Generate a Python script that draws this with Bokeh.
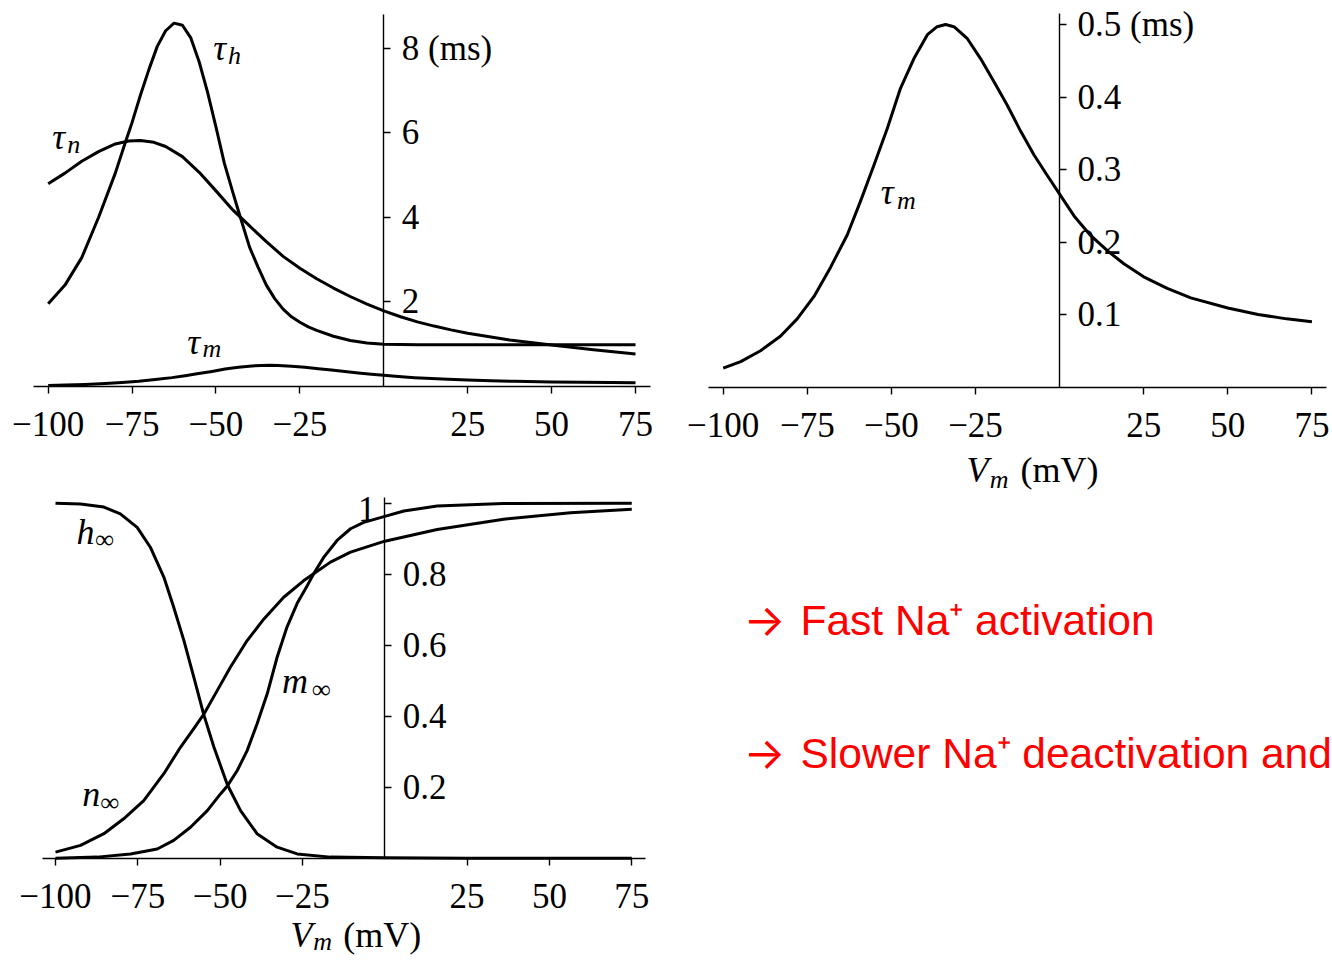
from bokeh.plotting import figure
from bokeh.models import LinearAxis, FixedTicker, Range1d
from bokeh.layouts import row, column
from bokeh.embed import file_html
from bokeh.resources import INLINE
from bokeh.core.properties import value

# ---------------- data ----------------
tau_h_v = [-100, -95, -90, -85, -80, -77, -75, -72.5, -70, -67.5, -65, -62.5, -60, -57.5, -55,
           -52.5, -50, -47.5, -45, -43.5, -40, -37.5, -35, -32.5, -30, -27.5, -25, -22.5, -20, -15, -10, -5,
           0, 10, 25, 50, 75]
tau_h = [1.96, 2.40, 3.05, 4.00, 5.05, 5.78, 6.25, 6.90, 7.50, 8.05, 8.42, 8.60, 8.55, 8.25, 7.68,
         6.96, 6.14, 5.28, 4.60, 4.20, 3.30, 2.83, 2.40, 2.08, 1.83, 1.65, 1.52, 1.41, 1.33, 1.19, 1.09, 1.03,
         1.00, 0.99, 0.99, 0.99, 0.99]

tau_n_v = [-100, -95, -90, -85, -80, -76, -72.5, -68.5, -65, -60, -55, -50, -45, -40, -35, -30, -25,
           -20, -15, -10, -5, 0, 5, 10, 15, 20, 25, 37.5, 50, 62.5, 75]
tau_n = [4.80, 5.05, 5.33, 5.56, 5.74, 5.81, 5.82, 5.78, 5.68, 5.44, 5.07, 4.63, 4.18, 3.80, 3.43, 3.08, 2.80,
         2.55, 2.33, 2.13, 1.95, 1.79, 1.65, 1.53, 1.43, 1.34, 1.26, 1.10, 0.98, 0.87, 0.77]

tau_m_v = [-100, -94.8, -88.9, -83.0, -78.0, -73.0, -68.1, -63.1, -59.2, -55.2, -51.2, -47.3, -43.3, -39.3,
           -36.4, -33.9, -31.4, -27.5, -23.5, -19.5, -15.6, -11.6, -7.6, -3.7, 0, 4.3, 9.2, 14.2, 19.1, 25,
           32, 39, 50, 59, 67.5, 75]
tau_m = [0.026, 0.035, 0.050, 0.070, 0.094, 0.125, 0.165, 0.210, 0.256, 0.306, 0.357, 0.412, 0.453, 0.486,
         0.497, 0.500, 0.497, 0.481, 0.453, 0.421, 0.389, 0.353, 0.320, 0.292, 0.266, 0.236, 0.209, 0.188, 0.170,
         0.152, 0.136, 0.123, 0.109, 0.100, 0.094, 0.090]

h_inf_v = [-100, -92.4, -85.3, -80.3, -75.2, -71.2, -67.1, -64.1, -61.0, -58.0, -55.0, -51.9, -47.8, -43.8,
           -38.8, -32.7, -26.6, -16.5, 0, 25, 50, 75]
h_inf = [1.000, 0.998, 0.989, 0.970, 0.932, 0.876, 0.792, 0.707, 0.613, 0.510, 0.405, 0.313, 0.207, 0.134,
         0.069, 0.031, 0.012, 0.003, 0.001, 0.0, 0.0, 0.0]

n_inf_v = [-100, -92.4, -85.3, -79.3, -73.2, -67.1, -62.0, -58.0, -55.0, -50.9, -46.9, -41.8, -36.7, -30.7,
           -24.6, -21.6, -16.5, -10.4, 0, 15.9, 36.1, 56.4, 75]
n_inf = [0.017, 0.036, 0.069, 0.111, 0.162, 0.238, 0.313, 0.365, 0.405, 0.472, 0.538, 0.613, 0.674, 0.735,
         0.782, 0.801, 0.834, 0.862, 0.893, 0.926, 0.955, 0.973, 0.983]

m_inf_v = [-100, -87.4, -77.2, -69.1, -64.1, -59.0, -53.9, -49.9, -47.7, -44.8, -41.8, -38.8, -35.7, -32.7,
           -29.7, -26.6, -23.6, -21.6, -18.5, -14.5, -10.4, -6.4, 0, 5.8, 15.9, 36, 75]
m_inf = [0.000, 0.003, 0.012, 0.026, 0.050, 0.087, 0.134, 0.181, 0.205, 0.247, 0.303, 0.378, 0.463, 0.566,
         0.651, 0.718, 0.767, 0.801, 0.848, 0.895, 0.928, 0.946, 0.963, 0.978, 0.992, 0.999, 1.000]

x_ticks = [-100, -75, -50, -25, 25, 50, 75]
x_tick_labels = ["\u2212100", "\u221275", "\u221250", "\u221225", "25", "50", "75"]
tl_y_ticks = [2, 4, 6, 8]
tl_y_labels = ["2", "4", "6", "8 (ms)"]
tr_y_ticks = [0.1, 0.2, 0.3, 0.4, 0.5]
tr_y_labels = ["0.1", "0.2", "0.3", "0.4", "0.5 (ms)"]
bl_y_ticks = [0.2, 0.4, 0.6, 0.8, 1]
bl_y_labels = ["0.2", "0.4", "0.6", "0.8", ""]

red_arrow = "\u2192"
red_texts = ["Fast Na\u207a activation", "Slower Na\u207a deactivation and"]

# ---------------- styling ----------------
SERIF = "Liberation Serif"
TICK_FS = "35px"
LAB_FS = "36px"
SUB_FS = "26px"
LW = 3.0


def make_fig(width, height, xr, yr):
    p = figure(width=width, height=height, x_range=Range1d(*xr), y_range=Range1d(*yr),
               x_axis_location=None, y_axis_location=None, toolbar_location=None,
               output_backend="svg", min_border=0, outline_line_color=None)
    p.min_border_left = 0
    p.min_border_right = 0
    p.min_border_top = 0
    p.min_border_bottom = 0
    p.grid.visible = False
    p.background_fill_color = "white"
    p.border_fill_color = "white"
    return p


def style_axis(ax, ticks, labels, standoff):
    ax.ticker = FixedTicker(ticks=ticks)
    ax.major_label_overrides = dict(zip(ticks, labels))
    ax.axis_line_color = "black"
    ax.axis_line_width = 1.4
    ax.major_tick_line_color = "black"
    ax.major_tick_line_width = 1.4
    ax.major_tick_in = 0
    ax.major_tick_out = 7
    ax.minor_tick_line_color = None
    ax.major_label_text_font = SERIF
    ax.major_label_text_font_size = TICK_FS
    ax.major_label_text_color = "black"
    ax.major_label_standoff = standoff


def add_axes(p, xbounds, ybounds, yticks, ylabels):
    xa = LinearAxis(fixed_location=0, bounds=xbounds)
    style_axis(xa, x_ticks, x_tick_labels, 19)
    p.add_layout(xa, "below")
    ya = LinearAxis(fixed_location=0, bounds=ybounds)
    style_axis(ya, yticks, ylabels, 11)
    p.add_layout(ya, "right")


def txt(p, x, y, s, size, italic=False, font=SERIF, color="black"):
    p.text(x=[x], y=[y], text=[s], text_font=value(font),
           text_font_style="italic" if italic else "normal",
           text_font_size=size, text_baseline="alphabetic", text_align="left", text_color=color)


def math_label(p, x, y, main, sx, sy, sub):
    txt(p, x, y, main, LAB_FS, italic=True)
    txt(p, sx, sy, sub, SUB_FS, italic=True)


# ---------------- top-left: tau_h, tau_n, tau_m ----------------
pa = make_fig(680, 486, (-114.21, 88.41), (-2.3669, 9.136))
add_axes(pa, (-104.38, 79.47), (0, 8.80), tl_y_ticks, tl_y_labels)
for xs, ys in ((tau_h_v, tau_h), (tau_n_v, tau_n), (tau_m_v, tau_m)):
    pa.line(xs, ys, line_width=LW, line_color="black", line_join="round")
math_label(pa, -50.8, 8.004, "\u03c4", -46.4, 7.833, "h")
math_label(pa, -98.8, 5.914, "\u03c4", -94.3, 5.733, "n")
math_label(pa, -58.6, 1.064, "\u03c4", -54.0, 0.893, "m")

# ---------------- top-right: tau_m ----------------
pb = make_fig(652, 496, (-112.69, 81.12), (-0.1510, 0.5331))
add_axes(pb, (-104.37, 79.37), (0, 0.5148), tr_y_ticks, tr_y_labels)
pb.line(tau_m_v, tau_m, line_width=LW, line_color="black", line_join="round")
math_label(pb, -53.2, 0.2696, "\u03c4", -48.3, 0.2574, "m")
math_label(pb, -27.7, -0.1144, "V", -20.8, -0.1276, "m")
txt(pb, -11.6, -0.1144, "(mV)", LAB_FS)

# ---------------- bottom-left: steady states ----------------
pc = make_fig(680, 474, (-116.70, 89.80), (-0.2882, 1.0470))
add_axes(pc, (-104.0, 79.2), (0, 1.016), bl_y_ticks, bl_y_labels)
for xs, ys in ((h_inf_v, h_inf), (n_inf_v, n_inf), (m_inf_v, m_inf)):
    pc.line(xs, ys, line_width=LW, line_color="black", line_join="round")
pc.text(x=[-2.8], y=[0.985], text=["1"], text_font=value(SERIF), text_font_size=TICK_FS,
        text_baseline="middle", text_align="right", text_color="black")
math_label(pc, -93.6, 0.9198, "h", -87.9, 0.8974, "\u221e")
math_label(pc, -91.9, 0.1818, "n", -86.3, 0.1574, "\u221e")
math_label(pc, -31.2, 0.4978, "m", -22.1, 0.4754, "\u221e")
math_label(pc, -28.6, -0.2162, "V", -21.7, -0.2356, "m")
txt(pc, -12.6, -0.2162, "(mV)", LAB_FS)

# ---------------- bottom-right: red notes ----------------
pd_ = make_fig(652, 464, (0, 652), (464, 0))
pd_.text(x=[63, 63], y=[123, 256], text=[red_arrow, red_arrow], text_font=value("Inter"),
         text_font_size="44px", text_baseline="alphabetic", text_align="left", text_color="#ff0000")
pd_.text(x=[120, 120], y=[124, 257], text=red_texts, text_font=value("Liberation Sans"),
         text_font_size="42.5px", text_baseline="alphabetic", text_align="left", text_color="#ff0000")

layout = row(column(pa, pc), column(pb, pd_))
open("out.html", "w").write(file_html(layout, INLINE))
